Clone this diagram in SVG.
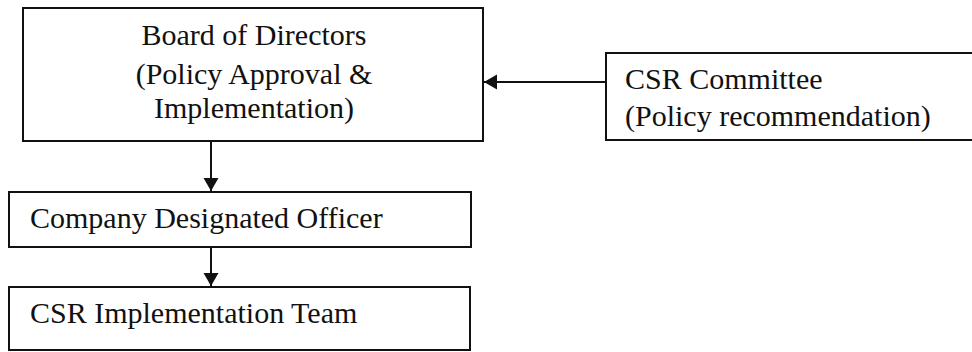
<svg xmlns="http://www.w3.org/2000/svg" width="972" height="352" viewBox="0 0 972 352">
<style>
.box{fill:#fff;stroke:#111;stroke-width:2}
.t{font-family:"Liberation Serif","Times New Roman",serif;font-size:30px;fill:#111}
.c{text-anchor:middle}
.line{stroke:#111;stroke-width:2;fill:none}
</style>
<defs>
<marker id="ah" markerWidth="16" markerHeight="16" refX="13" refY="7.5" orient="auto" markerUnits="userSpaceOnUse">
<path d="M0,0 L13,7.5 L0,15 Z" fill="#111"/>
</marker>
</defs>
<rect width="972" height="352" fill="#fff"/>
<g id="board">
<rect class="box" x="23" y="8" width="460" height="133"/>
<text class="t c" x="254" y="45">Board of Directors</text>
<text class="t c" x="254" y="84">(Policy Approval &amp;</text>
<text class="t c" x="254" y="118">Implementation)</text>
</g>
<g id="committee">
<rect class="box" x="606" y="53" width="380" height="87"/>
<text class="t" x="625" y="89">CSR Committee</text>
<text class="t" x="625" y="126">(Policy recommendation)</text>
</g>
<g id="officer">
<rect class="box" x="9" y="192" width="462" height="55"/>
<text class="t" x="30" y="228">Company Designated Officer</text>
</g>
<g id="team">
<rect class="box" x="9" y="287" width="461" height="63"/>
<text class="t" x="30" y="323">CSR Implementation Team</text>
</g>
<g id="connectors">
<line class="line" x1="606" y1="82" x2="484" y2="82" marker-end="url(#ah)"/>
<line class="line" x1="211" y1="141" x2="211" y2="191" marker-end="url(#ah)"/>
<line class="line" x1="211" y1="247" x2="211" y2="286" marker-end="url(#ah)"/>
</g>
</svg>
